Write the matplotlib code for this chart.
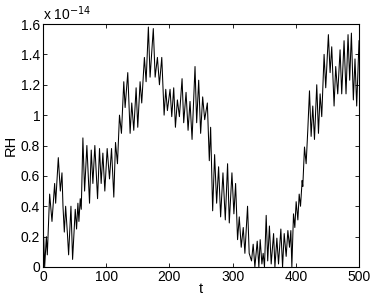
import matplotlib
matplotlib.use("Agg")
import matplotlib.pyplot as plt
import numpy as np

# RH values, in units of 1e-14
t = [0, 1.05, 2.6, 5.3, 6.8, 10.5, 14.2, 18.4, 20, 24.2, 27.4, 30, 31.6, 33.7,
     35.8, 38.9, 40.5, 44.2, 46.8, 51, 53.1, 55.2, 56.8, 58.9, 60.5, 63.1, 65.8,
     69.4, 73.6, 76.3, 78.9, 82, 86.3, 89.4, 92, 94.7, 97.8, 101.5, 105.2, 108.4,
     112, 114.7, 117.8, 121, 124.1, 127.8, 129.9, 134.1, 137.8, 140.4, 143.6,
     147.3, 149.9, 153.6, 156.2, 160.4, 163.1, 166.7, 169.4, 174.5, 177.4, 181,
     184.2, 187.9, 191.6, 194.2, 196.8, 201, 203.7, 206.8, 209.5, 212.6, 215.8,
     220, 222.6, 226.3, 229.5, 232.6, 235.8, 240.5, 243.1, 246.3, 249.4, 252.6,
     255.8, 260, 263.1, 265.2, 268.4, 271.5, 274.7, 277.8, 281, 284.7, 288.4,
     292, 294.7, 298.9, 302, 304.7, 307.8, 310.5, 313.6, 316.8, 319.4, 323.6,
     326.2, 329.9, 332.5, 335.2, 338.9, 341.5, 343.6, 346.3, 348.3, 350.4, 353.1,
     355.5, 358.2, 361, 364.8, 366.9, 370, 372.6, 376.3, 379, 381.6, 384.7,
     387.4, 390, 392.1, 393.7, 396.3, 398.4, 400.5, 403.2, 405.3, 407.4, 410,
     411, 413.7, 416.3, 418.9, 421.6, 424.2, 426.8, 429.5, 433.1, 435.8, 438.4,
     441, 444.7, 447.3, 451.5, 454.2, 456.8, 460.5, 463.1, 466.3, 470, 472.6,
     476.3, 479.4, 482.6, 485.2, 487.9, 491, 493.6, 496.3, 500]
rh = [0.10, 0.20, 0.00, 0.20, 0.08, 0.48, 0.30, 0.55, 0.42, 0.72, 0.50, 0.62,
      0.40, 0.23, 0.40, 0.20, 0.08, 0.40, 0.05, 0.38, 0.25, 0.42, 0.30, 0.45,
      0.38, 0.85, 0.50, 0.80, 0.42, 0.77, 0.55, 0.80, 0.45, 0.78, 0.55, 0.75,
      0.50, 0.78, 0.58, 0.78, 0.46, 0.82, 0.68, 1.00, 0.88, 1.22, 1.05, 1.28,
      0.88, 1.08, 0.90, 1.18, 0.92, 1.22, 1.08, 1.38, 1.22, 1.58, 1.25, 1.57,
      1.25, 1.38, 1.20, 1.38, 1.00, 1.17, 1.03, 1.17, 0.99, 1.18, 0.92, 1.10,
      0.99, 1.24, 0.95, 1.15, 0.90, 1.09, 0.84, 1.32, 0.95, 1.23, 0.88, 1.12,
      0.97, 1.08, 0.70, 0.92, 0.37, 0.74, 0.42, 0.66, 0.33, 0.62, 0.31, 0.68,
      0.29, 0.62, 0.35, 0.55, 0.18, 0.33, 0.13, 0.26, 0.09, 0.40, 0.09, 0.04,
      0.15, 0.00, 0.17, 0.00, 0.18, 0.02, 0.09, 0.00, 0.34, 0.04, 0.27, 0.02,
      0.22, 0.00, 0.19, 0.02, 0.25, 0.00, 0.22, 0.07, 0.24, 0.13, 0.24, 0.00,
      0.35, 0.26, 0.43, 0.31, 0.48, 0.40, 0.57, 0.53, 0.79, 0.68, 0.90, 1.16,
      0.86, 1.06, 0.84, 1.20, 0.88, 1.14, 0.99, 1.40, 1.18, 1.53, 1.28, 1.45,
      1.06, 1.32, 1.14, 1.43, 1.14, 1.49, 1.14, 1.53, 1.23, 1.54, 1.10, 1.37,
      1.06, 1.49]

x_ticks = [0, 100, 200, 300, 400, 500]
y_ticks = [0, 0.2, 0.4, 0.6, 0.8, 1, 1.2, 1.4, 1.6]

plt.rcParams['font.family'] = ['Liberation Sans', 'DejaVu Sans']

fig = plt.figure(figsize=(3.74, 3.07), dpi=100)
ax = fig.add_axes([0.115, 0.1303, 0.845, 0.7915])
ax.plot(t, rh, color='black', linewidth=0.75)

ax.set_xlim(0, 500)
ax.set_ylim(0, 1.6)
ax.set_xticks(x_ticks)
ax.set_yticks(y_ticks)
ax.set_yticklabels(['%g' % v for v in y_ticks])
ax.tick_params(direction='in', top=True, right=True, length=3, width=0.6,
               labelsize=10, pad=2)
for s in ax.spines.values():
    s.set_linewidth(0.8)

ax.text(0, 1.005, r'x 10$^{-14}$', transform=ax.transAxes, fontsize=10,
        ha='left', va='bottom')
ax.set_xlabel('t', fontsize=10.5, labelpad=-1)
ax.set_ylabel('RH', fontsize=10.5, labelpad=2)

fig.savefig('out.png', dpi=100)
